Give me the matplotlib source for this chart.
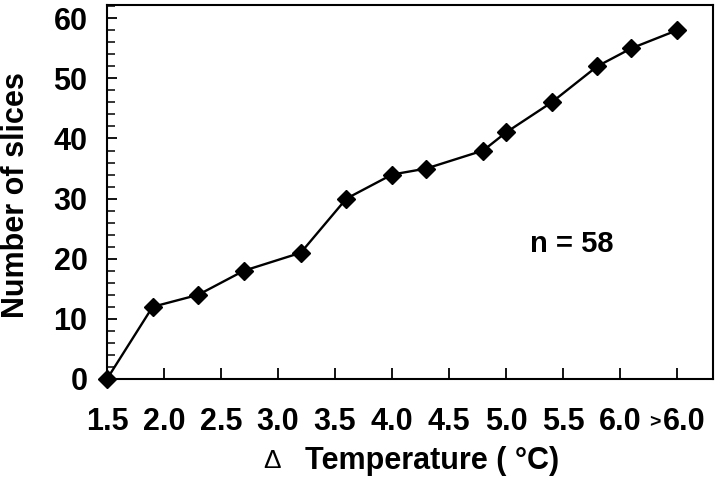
import matplotlib.pyplot as plt
from matplotlib.ticker import MultipleLocator

plt.rcParams['font.family'] = ['Liberation Sans', 'DejaVu Sans']

# data
temp = [1.5, 1.9, 2.3, 2.7, 3.2, 3.6, 4.0, 4.3, 4.8, 5.0, 5.4, 5.8, 6.1, 6.5]
slices = [0, 12, 14, 18, 21, 30, 34, 35, 38, 41, 46, 52, 55, 58]
tick_pos = [1.5, 2.0, 2.5, 3.0, 3.5, 4.0, 4.5, 5.0, 5.5, 6.0, 6.5]
tick_labels = ['1.5', '2.0', '2.5', '3.0', '3.5', '4.0', '4.5', '5.0', '5.5', '6.0', '']

fig = plt.figure(figsize=(7.2, 4.82), dpi=100)
ax = fig.add_axes([0.1486, 0.2137, 0.8417, 0.7759])

ax.plot(temp, slices, color='black', lw=1.7, marker='D', markersize=9,
        clip_on=False, zorder=3)

ax.set_xlim(1.5, 6.816)
ax.set_ylim(0, 62.2)

ax.set_xticks(tick_pos)
ax.set_xticklabels(tick_labels)
ax.set_yticks(range(0, 61, 10))
ax.yaxis.set_minor_locator(MultipleLocator(2))

for lab in ax.get_xticklabels() + ax.get_yticklabels():
    lab.set_fontweight('bold')
    lab.set_fontsize(22)

ax.tick_params(axis='x', direction='in', length=8, width=1.3, pad=20)
ax.tick_params(axis='y', which='major', direction='in', length=7, width=1.3, pad=14)
ax.tick_params(axis='y', which='minor', direction='in', length=6, width=1.1)

for s in ax.spines.values():
    s.set_linewidth(1.5)

# last category label: small '>' in front of 6.0
ax.annotate('6.0', xy=(6.5, 0), xycoords=('data', 'axes fraction'),
            xytext=(5, -20), textcoords='offset points', ha='center', va='top',
            fontsize=22, fontweight='bold')
ax.annotate('>', xy=(6.5, 0), xycoords=('data', 'axes fraction'),
            xytext=(-16, -25), textcoords='offset points', ha='center', va='top',
            fontsize=14, fontweight='bold')

fig.text(0.022, 0.595, 'Number of slices', rotation=90, ha='center', va='center',
         fontsize=22, fontweight='bold')
fig.text(0.378, 0.043, '\u0394', ha='center', va='center', fontsize=19)
fig.text(0.600, 0.043, 'Temperature ( \u00b0C)', ha='center', va='center',
         fontsize=22, fontweight='bold')
fig.text(0.794, 0.494, 'n = 58', ha='center', va='center',
         fontsize=21, fontweight='bold')

fig.savefig('out.png', dpi=100)
